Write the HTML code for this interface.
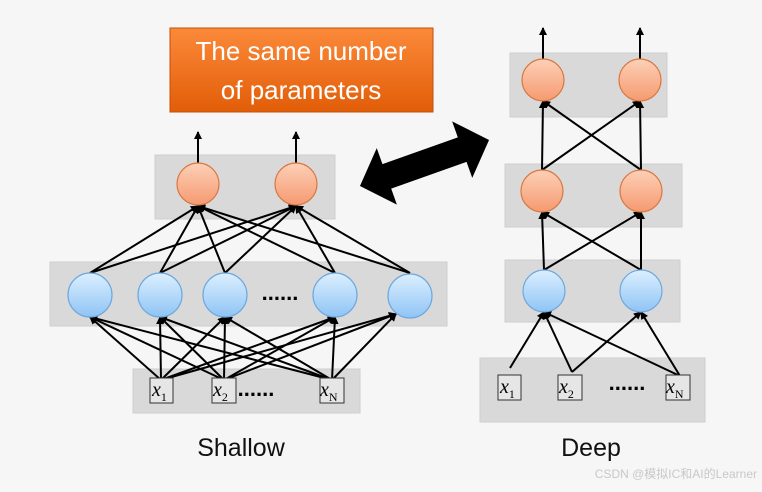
<!DOCTYPE html>
<html><head><meta charset="utf-8"><style>
body{margin:0;width:762px;height:487px;overflow:hidden;background:#f7f7f7;font-family:"Liberation Sans",sans-serif}
</style></head><body>
<svg width="762" height="487" xmlns="http://www.w3.org/2000/svg">
<defs>
<marker id="a" markerWidth="8" markerHeight="8" refX="7" refY="4" orient="auto" markerUnits="userSpaceOnUse"><path d="M0,0 L8,4 L0,8 z" fill="#000"/></marker>
<linearGradient id="blue" x1="0" y1="0" x2="0" y2="1"><stop offset="0" stop-color="#dcefff"/><stop offset="1" stop-color="#8fc4f5"/></linearGradient>
<linearGradient id="or" x1="0" y1="0" x2="0" y2="1"><stop offset="0" stop-color="#fdd0b8"/><stop offset="1" stop-color="#f59a70"/></linearGradient>
<linearGradient id="ob" x1="0" y1="0" x2="0" y2="1"><stop offset="0" stop-color="#fb8a3a"/><stop offset="1" stop-color="#e25d08"/></linearGradient>
</defs>
<rect width="762" height="487" fill="#f6f6f6"/>
<g fill="#d9d9d9" stroke="#cfcfcf">
<rect x="155" y="155" width="180" height="64"/>
<rect x="50" y="262" width="397" height="64"/>
<rect x="133" y="369" width="227" height="44"/>
<rect x="510" y="53" width="157" height="64"/>
<rect x="505" y="164" width="177" height="63"/>
<rect x="505" y="260" width="175" height="62"/>
<rect x="480" y="358" width="225" height="64"/>
</g>
<rect x="170" y="28" width="263" height="84" fill="url(#ob)" stroke="#c0500a"/>
<text x="301" y="60" font-size="26" fill="#fff" text-anchor="middle">The same number</text>
<text x="301" y="99" font-size="26" fill="#fff" text-anchor="middle">of parameters</text>
<g transform="translate(424.5,163) rotate(-19.6)">
<polygon points="-68.5,0 -40,-30 -40,-13 40,-13 40,-30 68.5,0 40,30 40,13 -40,13 -40,30" fill="#000"/>
</g>
<g stroke="#000" stroke-width="2" marker-end="url(#a)">
<line x1="90" y1="273" x2="198" y2="206"/><line x1="90" y1="273" x2="296" y2="206"/>
<line x1="160" y1="273" x2="198" y2="206"/><line x1="160" y1="273" x2="296" y2="206"/>
<line x1="225" y1="273" x2="198" y2="206"/><line x1="225" y1="273" x2="296" y2="206"/>
<line x1="335" y1="273" x2="198" y2="206"/><line x1="335" y1="273" x2="296" y2="206"/>
<line x1="410" y1="273" x2="198" y2="206"/><line x1="410" y1="273" x2="296" y2="206"/>
<line x1="198" y1="163" x2="198" y2="132"/><line x1="296" y1="163" x2="296" y2="132"/>
<line x1="161" y1="380" x2="90" y2="317"/><line x1="161" y1="380" x2="160" y2="317"/><line x1="161" y1="380" x2="225" y2="317"/><line x1="161" y1="380" x2="335" y2="317"/><line x1="161" y1="380" x2="396" y2="314"/>
<line x1="224" y1="380" x2="90" y2="317"/><line x1="224" y1="380" x2="160" y2="317"/><line x1="224" y1="380" x2="225" y2="317"/><line x1="224" y1="380" x2="335" y2="317"/><line x1="224" y1="380" x2="396" y2="314"/>
<line x1="332" y1="380" x2="90" y2="317"/><line x1="332" y1="380" x2="160" y2="317"/><line x1="332" y1="380" x2="225" y2="317"/><line x1="332" y1="380" x2="335" y2="317"/><line x1="332" y1="380" x2="396" y2="314"/>
</g>
<g stroke="#000" stroke-width="2" marker-end="url(#a)">
<line x1="543" y1="59" x2="543" y2="28"/><line x1="640" y1="59" x2="640" y2="28"/>
<line x1="542" y1="170" x2="543" y2="101"/><line x1="542" y1="170" x2="640" y2="101"/>
<line x1="641" y1="170" x2="543" y2="101"/><line x1="641" y1="170" x2="640" y2="101"/>
<line x1="544" y1="270" x2="542" y2="212"/><line x1="544" y1="270" x2="641" y2="212"/>
<line x1="641" y1="270" x2="542" y2="212"/><line x1="641" y1="270" x2="641" y2="212"/>
<line x1="510" y1="368" x2="544" y2="312"/><line x1="572" y1="372" x2="544" y2="312"/><line x1="572" y1="372" x2="641" y2="312"/>
<line x1="680" y1="376" x2="544" y2="312"/><line x1="680" y1="376" x2="641" y2="312"/>
</g>
<g fill="url(#blue)" stroke="#6fa8dc" stroke-width="1.2">
<circle cx="90" cy="295" r="22"/><circle cx="160" cy="295" r="22"/><circle cx="225" cy="295" r="22"/><circle cx="335" cy="295" r="22"/><circle cx="410" cy="296" r="22"/>
<circle cx="544" cy="291" r="21"/><circle cx="641" cy="291" r="21"/>
</g>
<g fill="url(#or)" stroke="#d9773f" stroke-width="1.2">
<circle cx="198" cy="184" r="21"/><circle cx="296" cy="184" r="21"/>
<circle cx="543" cy="80" r="21"/><circle cx="640" cy="80" r="21"/>
<circle cx="542" cy="191" r="21"/><circle cx="641" cy="191" r="21"/>
</g>
<g font-family="Liberation Sans" font-size="22" font-weight="bold" text-anchor="middle">
<text x="280" y="300">......</text><text x="256" y="396">......</text><text x="627" y="390">......</text>
</g>
<g fill="#e6e6e6" stroke="#333" stroke-width="1">
<rect x="150" y="378" width="23" height="25"/><rect x="212" y="378" width="24" height="25"/><rect x="320" y="378" width="24" height="25"/>
<rect x="498" y="375" width="23" height="25"/><rect x="558" y="375" width="24" height="25"/><rect x="666" y="375" width="24" height="25"/>
</g>
<g font-family="Liberation Serif" font-style="italic" font-size="20">
<text x="152" y="396">x<tspan font-size="12" font-style="normal" dy="5">1</tspan></text>
<text x="213" y="396">x<tspan font-size="12" font-style="normal" dy="5">2</tspan></text>
<text x="320" y="396">x<tspan font-size="12" font-style="normal" dy="5">N</tspan></text>
<text x="500" y="393">x<tspan font-size="12" font-style="normal" dy="5">1</tspan></text>
<text x="559" y="393">x<tspan font-size="12" font-style="normal" dy="5">2</tspan></text>
<text x="666" y="393">x<tspan font-size="12" font-style="normal" dy="5">N</tspan></text>
</g>
<text x="241" y="456" font-size="25" text-anchor="middle" fill="#111">Shallow</text>
<text x="591" y="456" font-size="25" text-anchor="middle" fill="#111">Deep</text>
<text x="757" y="478" font-size="12" text-anchor="end" fill="#c8c8c8" font-family="Liberation Sans, Noto Sans CJK SC, sans-serif">CSDN @模拟IC和AI的Learner</text>
</svg>
</body></html>
